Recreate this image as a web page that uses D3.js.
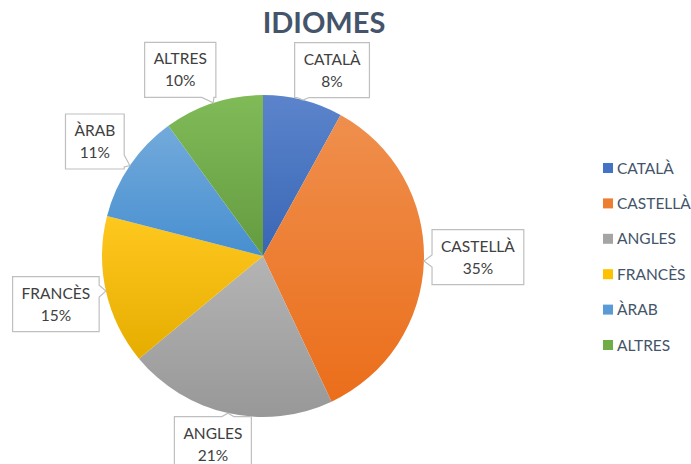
<!DOCTYPE html>
<html>
<head>
<meta charset="utf-8">
<script src="https://cdn.jsdelivr.net/npm/d3@7"></script>
<style>
  html, body { margin: 0; padding: 0; background: #fff; }
  svg { display: block; }
</style>
</head>
<body>
<svg id="chart" width="691" height="464"></svg>
<script>
// ---- data ----
const title = "IDIOMES";
const categories = ["CATALÀ", "CASTELLÀ", "ANGLES", "FRANCÈS", "ÀRAB", "ALTRES"];
const values = [8, 35, 21, 15, 11, 10];
const colors = ["#4472c4", "#ed7d31", "#a5a5a5", "#ffc000", "#5b9bd5", "#70ad47"];

// ---- layout (not data) ----
const W = 691, H = 464;
const cx = 263, cy = 256, R = 161;
// box centre offset from the pointer tip on the slice edge
const labelOffsets = [[29, -30], [54, -4], [-15, 31], [-50, 13], [-35, -24], [-33, -33]];
const font = "Lato, 'Open Sans', sans-serif";

const svg = d3.select("#chart");
const defs = svg.append("defs");

colors.forEach((c, i) => {
  const g = defs.append("linearGradient")
    .attr("id", "grad" + i)
    .attr("x1", 0).attr("y1", 0).attr("x2", 0).attr("y2", 1);
  const top = d3.hsl(c); top.l = Math.min(1, top.l + 0.06);
  const bot = d3.hsl(c); bot.l = bot.l - 0.05;
  g.append("stop").attr("offset", "0%").attr("stop-color", top.formatHex());
  g.append("stop").attr("offset", "100%").attr("stop-color", bot.formatHex());
});

// title
svg.append("text")
  .attr("x", 324).attr("y", 33)
  .attr("text-anchor", "middle")
  .attr("font-family", font)
  .attr("font-weight", "bold")
  .attr("font-size", 29)
  .attr("fill", "#44546a")
  .text(title);

const pie = d3.pie().sort(null).value(d => d.v);
const data = categories.map((c, i) => ({ c, v: values[i], i }));
const arcs = pie(data);
const arc = d3.arc().innerRadius(0).outerRadius(R);

const g = svg.append("g").attr("transform", `translate(${cx},${cy})`);
g.selectAll("path.slice").data(arcs).enter().append("path")
  .attr("class", "slice")
  .attr("d", arc)
  .attr("fill", d => `url(#grad${d.data.i})`);

const total = d3.sum(values);

// labels (callouts)
const lg = svg.append("g");
arcs.forEach((a, i) => {
  const mid = (a.startAngle + a.endAngle) / 2;
  const tx = cx + R * Math.sin(mid);
  const ty = cy - R * Math.cos(mid);
  const bcx = tx + labelOffsets[i][0];
  const bcy = ty + labelOffsets[i][1];

  const grp = lg.append("g");
  const path = grp.append("path");
  const t1 = grp.append("text")
    .attr("x", bcx).attr("text-anchor", "middle")
    .attr("font-family", font).attr("font-size", 15.5).attr("fill", "#404040")
    .text(categories[i]);
  const t2 = grp.append("text")
    .attr("x", bcx).attr("text-anchor", "middle")
    .attr("font-family", font).attr("font-size", 15.5).attr("fill", "#404040")
    .text(Math.round(values[i] / total * 100) + "%");
  const capH = 15.5 * 0.72;
  t1.attr("y", bcy - 11 + capH / 2);
  t2.attr("y", bcy + 11 + capH / 2);

  const tw = Math.max(t1.node().getComputedTextLength(), t2.node().getComputedTextLength());
  const bw = tw + 18, bh = 55;
  const x0 = bcx - bw / 2, x1 = bcx + bw / 2, y0 = bcy - bh / 2, y1 = bcy + bh / 2;

  const dxOut = Math.max(x0 - tx, tx - x1, 0);
  const dyOut = Math.max(y0 - ty, ty - y1, 0);
  const hw = 6;
  const clamp = (v, lo, hi) => Math.max(lo, Math.min(hi, v));
  let pts = [];
  if (dxOut === 0 && dyOut === 0) {
    pts = [[x0, y0], [x1, y0], [x1, y1], [x0, y1]];
  } else if (dyOut >= dxOut) {
    const m = clamp(tx, x0 + hw + 2, x1 - hw - 2);
    if (ty > y1) {
      pts = [[x0, y0], [x1, y0], [x1, y1], [m + hw, y1], [tx, ty], [m - hw, y1], [x0, y1]];
    } else {
      pts = [[x0, y0], [m - hw, y0], [tx, ty], [m + hw, y0], [x1, y0], [x1, y1], [x0, y1]];
    }
  } else {
    const m = clamp(ty, y0 + hw + 2, y1 - hw - 2);
    if (tx > x1) {
      pts = [[x0, y0], [x1, y0], [x1, m - hw], [tx, ty], [x1, m + hw], [x1, y1], [x0, y1]];
    } else {
      pts = [[x0, y0], [x1, y0], [x1, y1], [x0, y1], [x0, m + hw], [tx, ty], [x0, m - hw]];
    }
  }
  path.attr("d", d3.line()(pts) + "Z")
    .attr("fill", "#ffffff")
    .attr("stroke", "#bfbfbf")
    .attr("stroke-width", 1.2);
});

// legend
const leg = svg.append("g");
categories.forEach((c, i) => {
  const y = 168 + i * 35.4;
  leg.append("rect")
    .attr("x", 603).attr("y", y - 5).attr("width", 10).attr("height", 10)
    .attr("fill", colors[i]);
  leg.append("text")
    .attr("x", 617).attr("y", y + 5.5)
    .attr("font-family", font).attr("font-size", 15.5).attr("fill", "#44546a")
    .text(c);
});
</script>
</body>
</html>
